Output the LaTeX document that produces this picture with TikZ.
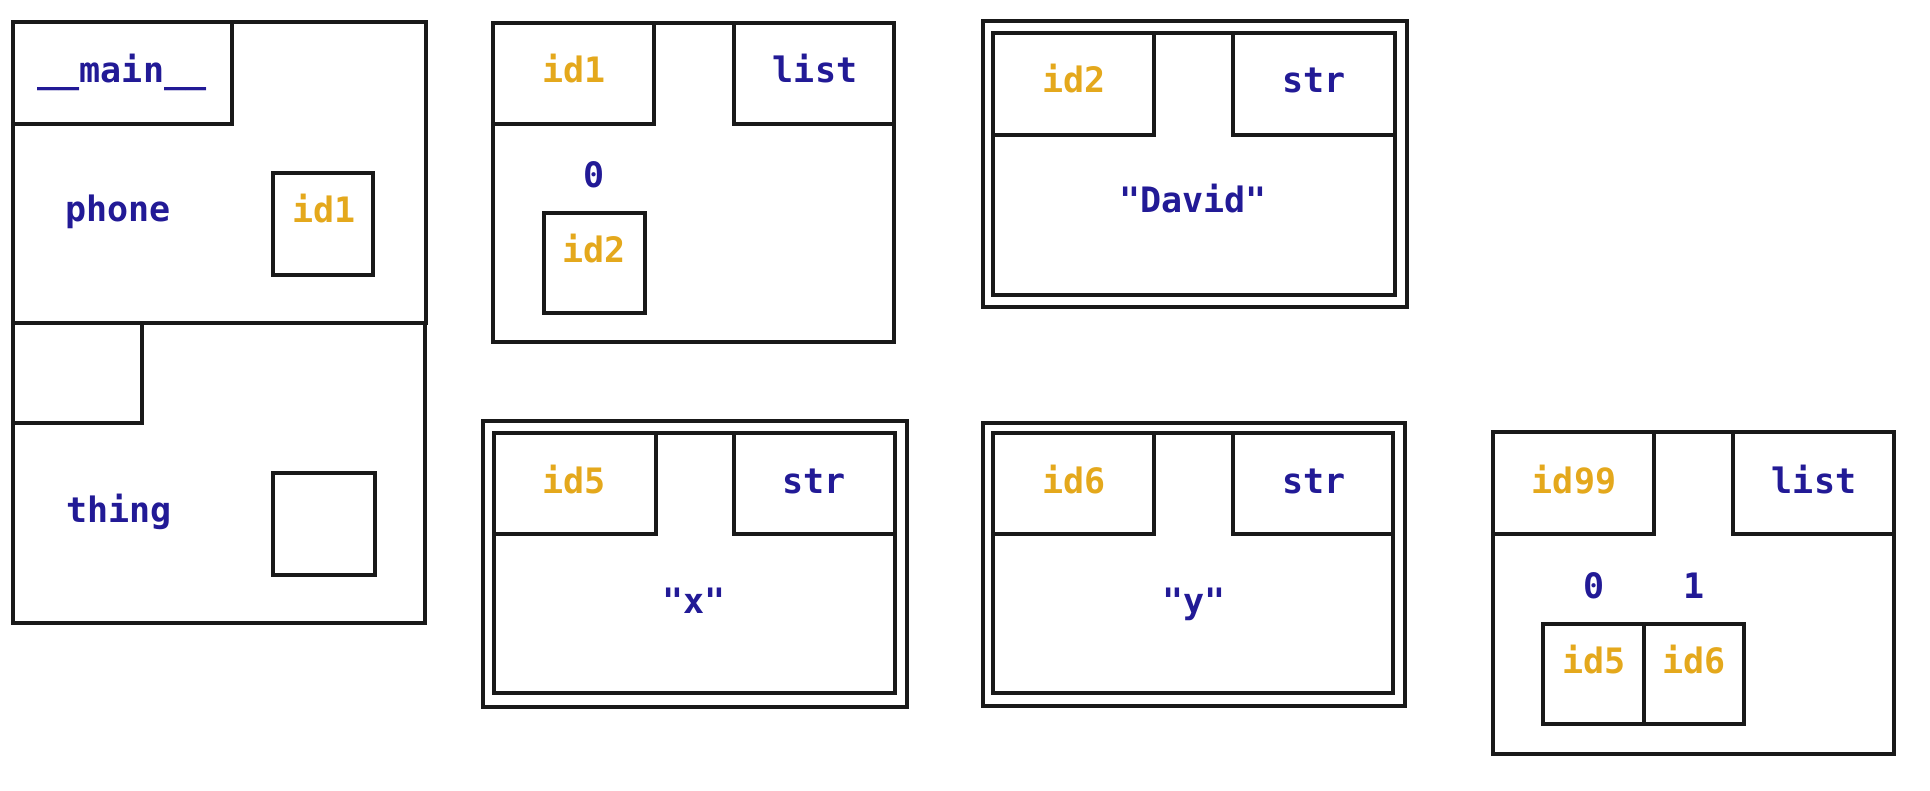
\documentclass[tikz,border=0pt]{standalone}
\usepackage{fontspec}
\setmonofont{DejaVu Sans Mono}
\definecolor{vblue}{RGB}{34,26,150}
\definecolor{vgold}{RGB}{228,168,28}
\tikzset{
  box/.style={draw=black!90, line width=3.4pt, inner sep=0pt, outer sep=0pt, anchor=north west},
  lbl/.style={font=\ttfamily\bfseries\fontsize{35}{40}\selectfont, anchor=base, inner sep=0pt},
  nm/.style={lbl, text=vblue},
  idt/.style={lbl, text=vgold}
}
\begin{document}
\begin{tikzpicture}[x=1pt,y=-1pt]
\useasboundingbox (0,0) rectangle (1930,791);
% __main__ frame
\node[box, minimum width=413pt, minimum height=301pt] (mainfr) at (13,22) {};
\node[box, minimum width=219pt, minimum height=102pt] (mainlb) at (13,22) {};
\node[box, minimum width=100pt, minimum height=102pt] (phptr) at (273,173) {};
\node[box, minimum width=412pt, minimum height=300pt] (thfr) at (13,323) {};
\node[box, minimum width=129pt, minimum height=100pt] (thlb) at (13,323) {};
\node[box, minimum width=102pt, minimum height=102pt] (thptr) at (273,473) {};
\node[nm] (tmain) at (122,83) {\_\_main\_\_};
\node[nm] (tphone) at (118,222) {phone};
\node[idt] (tphid) at (324,223) {id1};
\node[nm] (tthing) at (119,522) {thing};
% list id1
\node[box, minimum width=401pt, minimum height=319pt] (l1fr) at (493,23) {};
\node[box, minimum width=161pt, minimum height=101pt] (l1id) at (493,23) {};
\node[box, minimum width=160pt, minimum height=101pt] (l1ty) at (734,23) {};
\node[box, minimum width=101pt, minimum height=100pt] (l1s0) at (544,213) {};
\node[idt] (tl1id) at (574,83) {id1};
\node[nm] (tl1ty) at (815,83) {list};
\node[nm] (tl1i0) at (594,188) {0};
\node[idt] (tl1s0) at (594,263) {id2};
% str id2
\node[box, minimum width=424pt, minimum height=286pt] (s2out) at (983,21) {};
\node[box, minimum width=402pt, minimum height=262pt] (s2in) at (993,33) {};
\node[box, minimum width=161pt, minimum height=102pt] (s2id) at (993,33) {};
\node[box, minimum width=162pt, minimum height=102pt] (s2ty) at (1233,33) {};
\node[idt] (ts2id) at (1074,93) {id2};
\node[nm] (ts2ty) at (1314,93) {str};
\node[nm] (ts2v) at (1193,213) {"David"};
% str id5
\node[box, minimum width=424pt, minimum height=286pt] (s5out) at (483,421) {};
\node[box, minimum width=401pt, minimum height=260pt] (s5in) at (494,433) {};
\node[box, minimum width=162pt, minimum height=101pt] (s5id) at (494,433) {};
\node[box, minimum width=161pt, minimum height=101pt] (s5ty) at (734,433) {};
\node[idt] (ts5id) at (574,493) {id5};
\node[nm] (ts5ty) at (814,493) {str};
\node[nm] (ts5v) at (694,613) {"x"};
% str id6
\node[box, minimum width=422pt, minimum height=283pt] (s6out) at (983,423) {};
\node[box, minimum width=400pt, minimum height=260pt] (s6in) at (993,433) {};
\node[box, minimum width=161pt, minimum height=101pt] (s6id) at (993,433) {};
\node[box, minimum width=160pt, minimum height=101pt] (s6ty) at (1233,433) {};
\node[idt] (ts6id) at (1074,493) {id6};
\node[nm] (ts6ty) at (1314,493) {str};
\node[nm] (ts6v) at (1194,613) {"y"};
% list id99
\node[box, minimum width=401pt, minimum height=322pt] (l9fr) at (1493,432) {};
\node[box, minimum width=161pt, minimum height=102pt] (l9id) at (1493,432) {};
\node[box, minimum width=161pt, minimum height=102pt] (l9ty) at (1733,432) {};
\node[box, minimum width=101pt, minimum height=100pt] (l9s0) at (1543,624) {};
\node[box, minimum width=100pt, minimum height=100pt] (l9s1) at (1644,624) {};
\node[idt] (tl9id) at (1574,493) {id99};
\node[nm] (tl9ty) at (1814,493) {list};
\node[nm] (tl9i0) at (1594,598) {0};
\node[nm] (tl9i1) at (1694,598) {1};
\node[idt] (tl9s0) at (1594,673) {id5};
\node[idt] (tl9s1) at (1694,673) {id6};
\end{tikzpicture}
\end{document}
